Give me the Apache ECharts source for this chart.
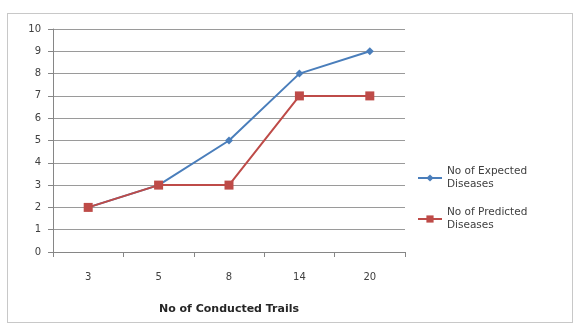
<!DOCTYPE html>
<html><head><meta charset="utf-8">
<script src="https://cdn.jsdelivr.net/npm/echarts@6/dist/echarts.min.js"></script>
<style>html,body{margin:0;padding:0;background:#fff}#frame{position:absolute;left:7px;top:13px;width:566px;height:310px;border:1px solid #c8c8c8;box-sizing:border-box}#c{position:absolute;left:0;top:0;width:576px;height:327px}</style>
</head><body><div id="frame"></div><div id="c"></div>
<script>
const categories = ['3', '5', '8', '14', '20'];
const expected = [2, 3, 5, 8, 9];
const predicted = [2, 3, 3, 7, 7];
const yTicks = [0, 10, 1];
const chart = echarts.init(document.getElementById('c'), null, {renderer: 'canvas'});
const font = '"DejaVu Sans", sans-serif';
chart.setOption({
  animation: false,
  grid: {left: 53, right: 171, top: 29, bottom: 75},
  legend: {
    orient: 'vertical', left: 412, top: 160, itemWidth: 24, itemHeight: 9, itemGap: 15,
    textStyle: {fontFamily: font, fontSize: 10.5, color: '#404040', lineHeight: 13},
    data: ['No of Expected\nDiseases', 'No of Predicted\nDiseases']
  },
  xAxis: {
    type: 'category', data: categories, boundaryGap: true,
    name: 'No of Conducted Trails', nameLocation: 'middle', nameGap: 52,
    nameTextStyle: {fontFamily: font, fontSize: 11, fontWeight: 'bold', color: '#262626'},
    axisLine: {lineStyle: {color: '#868686'}},
    axisTick: {show: true, length: 5, lineStyle: {color: '#868686'}},
    axisLabel: {fontFamily: font, fontSize: 10, color: '#404040', margin: 20}
  },
  yAxis: {
    type: 'value', min: yTicks[0], max: yTicks[1], interval: yTicks[2],
    axisLine: {show: true, lineStyle: {color: '#868686'}},
    axisTick: {show: true, length: 5, lineStyle: {color: '#868686'}},
    splitLine: {lineStyle: {color: '#9a9a9a'}},
    axisLabel: {fontFamily: font, fontSize: 10, color: '#404040', margin: 12}
  },
  series: [
    {name: 'No of Expected\nDiseases', type: 'line', data: expected, symbol: 'diamond', symbolSize: 8,
     lineStyle: {color: '#4A7EBB', width: 2}, itemStyle: {color: '#4A7EBB'}},
    {name: 'No of Predicted\nDiseases', type: 'line', data: predicted, symbol: 'rect', symbolSize: 9,
     lineStyle: {color: '#BE4B48', width: 2}, itemStyle: {color: '#BE4B48'}}
  ]
});
</script></body></html>
